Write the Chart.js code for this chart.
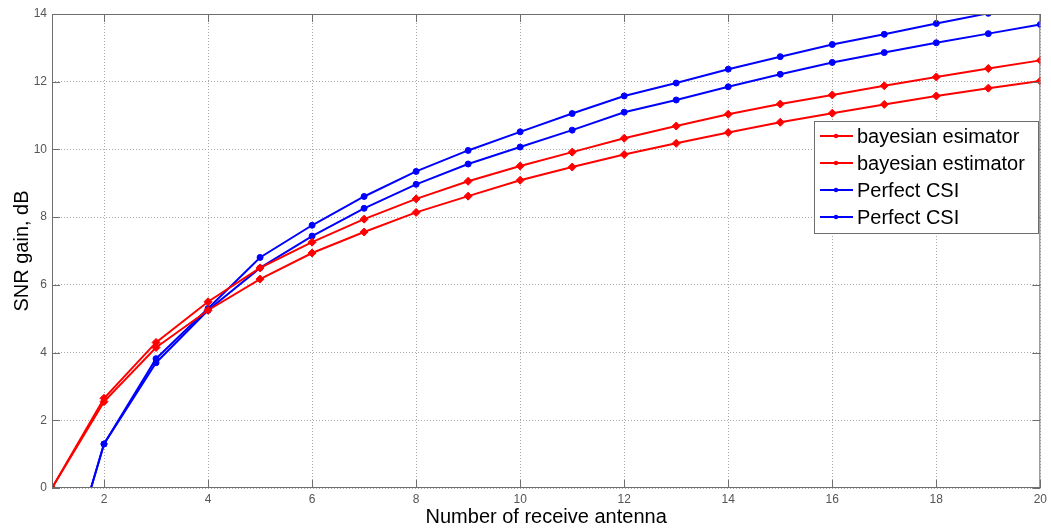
<!DOCTYPE html>
<html lang="en">
<head>
    <meta charset="UTF-8">
    <title>SNR gain vs number of receive antenna</title>
    <script src="https://cdn.jsdelivr.net/npm/chart.js"></script>
    <style>
        html, body { margin: 0; padding: 0; background: #fff; }
        #wrap { width: 1051px; height: 529px; position: relative; }
    </style>
</head>
<body>
    <div id="wrap">
        <canvas id="snrChart" width="1051" height="529"></canvas>
    </div>
    <script>
// Data
const antennas = [1, 2, 3, 4, 5, 6, 7, 8, 9, 10, 11, 12, 13, 14, 15, 16, 17, 18, 19, 20];
const bayesUpper = [0, 2.65, 4.3, 5.5, 6.5, 7.26, 7.94, 8.54, 9.06, 9.51, 9.92, 10.33, 10.69, 11.04, 11.34, 11.61, 11.88, 12.14, 12.39, 12.63];
const bayesLower = [0, 2.55, 4.15, 5.25, 6.17, 6.94, 7.56, 8.14, 8.62, 9.09, 9.48, 9.85, 10.18, 10.5, 10.8, 11.07, 11.33, 11.58, 11.81, 12.02];
const csiUpper = [-3.9, 1.3, 3.82, 5.3, 6.81, 7.76, 8.61, 9.35, 9.97, 10.52, 11.06, 11.58, 11.96, 12.37, 12.74, 13.1, 13.4, 13.72, 14.02, 14.3];
const csiLower = [-3.9, 1.3, 3.7, 5.25, 6.5, 7.44, 8.26, 8.97, 9.57, 10.07, 10.57, 11.1, 11.46, 11.85, 12.22, 12.57, 12.86, 13.15, 13.42, 13.69];
const xTicks = [2, 4, 6, 8, 10, 12, 14, 16, 18, 20];
const yTicks = [0, 2, 4, 6, 8, 10, 12, 14];
const legendLabels = ['bayesian esimator', 'bayesian estimator', 'Perfect CSI', 'Perfect CSI'];

const RED = '#ff0000';
const BLUE = '#0000ff';
const FONT = '"Liberation Sans", Arial, sans-serif';

function pts(ys) {
    return antennas.map((x, i) => ({ x: x, y: ys[i] }));
}

function series(label, ys, color, marker) {
    return {
        label: label,
        data: pts(ys),
        borderColor: color,
        backgroundColor: color,
        borderWidth: 2,
        pointStyle: marker,
        pointRadius: marker === 'rectRot' ? 4 : 3,
        pointBorderWidth: 1,
        tension: 0
    };
}

// MATLAB style frame with inward ticks
const framePlugin = {
    id: 'frame',
    afterDatasetsDraw(chart) {
        const { ctx, chartArea: a, scales } = chart;
        ctx.save();
        ctx.strokeStyle = '#6e6e6e';
        ctx.lineWidth = 1;
        ctx.strokeRect(a.left + 0.5, a.top + 0.5, a.right - a.left - 1, a.bottom - a.top - 1);
        ctx.beginPath();
        xTicks.forEach(v => {
            const px = Math.round(scales.x.getPixelForValue(v)) + 0.5;
            ctx.moveTo(px, a.bottom); ctx.lineTo(px, a.bottom - 8);
            ctx.moveTo(px, a.top); ctx.lineTo(px, a.top + 8);
        });
        yTicks.forEach(v => {
            const py = Math.round(scales.y.getPixelForValue(v)) + 0.5;
            ctx.moveTo(a.left, py); ctx.lineTo(a.left + 8, py);
            ctx.moveTo(a.right, py); ctx.lineTo(a.right - 8, py);
        });
        ctx.stroke();
        ctx.restore();
    }
};

// boxed legend inside the plot, like MATLAB
const boxLegend = {
    id: 'boxLegend',
    afterDraw(chart) {
        const { ctx } = chart;
        const x0 = 814, y0 = 121, w = 224, rowH = 27;
        const h = rowH * chart.data.datasets.length + 4;
        ctx.save();
        ctx.fillStyle = '#fff';
        ctx.fillRect(x0, y0, w, h);
        ctx.strokeStyle = '#6e6e6e';
        ctx.lineWidth = 1;
        ctx.strokeRect(x0 + 0.5, y0 + 0.5, w, h);
        ctx.font = '20px ' + FONT;
        ctx.textBaseline = 'middle';
        chart.data.datasets.forEach((ds, i) => {
            const cy = y0 + 15 + i * rowH;
            ctx.strokeStyle = ds.borderColor;
            ctx.lineWidth = 2;
            ctx.beginPath();
            ctx.moveTo(x0 + 6, cy); ctx.lineTo(x0 + 39, cy);
            ctx.stroke();
            ctx.fillStyle = ds.borderColor;
            ctx.beginPath();
            ctx.arc(x0 + 22, cy, 2.2, 0, Math.PI * 2);
            ctx.fill();
            ctx.fillStyle = '#000';
            ctx.fillText(ds.label, x0 + 43, cy + 1);
        });
        ctx.restore();
    }
};

const ctx = document.getElementById('snrChart').getContext('2d');
new Chart(ctx, {
    type: 'line',
    data: {
        datasets: [
            series(legendLabels[0], bayesUpper, RED, 'rectRot'),
            series(legendLabels[1], bayesLower, RED, 'rectRot'),
            series(legendLabels[2], csiUpper, BLUE, 'circle'),
            series(legendLabels[3], csiLower, BLUE, 'circle')
        ]
    },
    options: {
        responsive: false,
        animation: false,
        devicePixelRatio: 1,
        layout: { padding: { left: 0, right: 5, top: 14, bottom: 0 } },
        plugins: {
            legend: { display: false },
            tooltip: { enabled: false }
        },
        scales: {
            x: {
                type: 'linear',
                min: 1,
                max: 20,
                afterBuildTicks(scale) { scale.ticks = xTicks.map(v => ({ value: v })); },
                afterFit(scale) { scale.height = 41; },
                grid: {
                    color: '#a8a8a8',
                    lineWidth: 1,
                    drawTicks: false
                },
                border: { display: false, dash: [1, 2] },
                ticks: {
                    padding: 4,
                    maxRotation: 0,
                    color: '#555',
                    font: { family: FONT, size: 12 }
                },
                title: {
                    display: true,
                    text: 'Number of receive antenna',
                    color: '#000',
                    font: { family: FONT, size: 20 },
                    padding: { top: 0, bottom: 0 }
                }
            },
            y: {
                min: 0,
                max: 14,
                afterBuildTicks(scale) { scale.ticks = yTicks.map(v => ({ value: v })); },
                afterFit(scale) { scale.width = 52; },
                grid: {
                    color: '#a8a8a8',
                    lineWidth: 1,
                    drawTicks: false
                },
                border: { display: false, dash: [1, 2] },
                ticks: {
                    padding: 5,
                    color: '#555',
                    font: { family: FONT, size: 12 }
                },
                title: {
                    display: true,
                    text: 'SNR gain, dB',
                    color: '#000',
                    font: { family: FONT, size: 20 },
                    padding: { top: 10, bottom: 0 }
                }
            }
        }
    },
    plugins: [framePlugin, boxLegend]
});
    </script>
</body>
</html>
